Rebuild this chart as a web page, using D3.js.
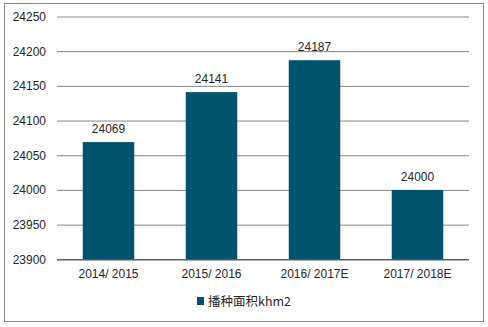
<!DOCTYPE html>
<html>
  <head>
    <meta charset="utf-8">
    <script src="https://d3js.org/d3.v7.min.js"></script>
    <style>
      body { margin: 0; background: #fff; }
      text { font-family: "Liberation Sans", Arial, sans-serif; fill: #262626; }
      .legend-label { font-family: "Noto Sans CJK SC", "Liberation Sans", sans-serif; }
    </style>
  </head>
  <body>
    <div id="chart"></div>
    <script>
      // data
      const seasons = ["2014/ 2015", "2015/ 2016", "2016/ 2017E", "2017/ 2018E"];
      const area = [24069, 24141, 24187, 24000];
      const yTicks = [23900, 23950, 24000, 24050, 24100, 24150, 24200, 24250];
      const seriesName = "播种面积khm2";

      const W = 488, H = 327;
      const plot = { left: 57, right: 469, top: 16.5, bottom: 259.3 };

      const svg = d3.select("#chart").append("svg")
        .attr("width", W)
        .attr("height", H);

      // outer frame
      svg.append("rect")
        .attr("x", 4.5).attr("y", 3.5)
        .attr("width", 479).attr("height", 318)
        .attr("fill", "#fff")
        .attr("stroke", "#8c8c8c");

      const x = d3.scaleBand()
        .domain(seasons)
        .range([plot.left, plot.right])
        .paddingInner(0.5)
        .paddingOuter(0.25);

      const y = d3.scaleLinear()
        .domain([23900, 24250])
        .range([plot.bottom, plot.top]);

      // gridlines + y labels
      const yAxis = svg.append("g")
        .attr("transform", `translate(${plot.left},0)`)
        .call(d3.axisLeft(y).tickValues(yTicks).tickFormat(d3.format("d"))
          .tickSize(-(plot.right - plot.left)).tickPadding(11));
      yAxis.select(".domain").remove();
      yAxis.selectAll(".tick line").attr("stroke", "#868686");
      yAxis.selectAll(".tick text")
        .attr("font-size", 12)
        .attr("font-family", "Liberation Sans, Arial, sans-serif")
        .attr("fill", "#262626");

      // bars
      svg.selectAll("rect.bar")
        .data(area)
        .enter()
        .append("rect")
        .attr("class", "bar")
        .attr("x", (d, i) => x(seasons[i]))
        .attr("y", d => y(d))
        .attr("width", x.bandwidth())
        .attr("height", d => y(23900) - y(d))
        .attr("fill", "#02536E");

      // value labels
      svg.selectAll("text.val")
        .data(area)
        .enter()
        .append("text")
        .attr("class", "val")
        .attr("x", (d, i) => x(seasons[i]) + x.bandwidth() / 2)
        .attr("y", d => y(d) - 9)
        .attr("text-anchor", "middle")
        .attr("font-size", 12)
        .text(d => d);

      // x axis baseline + labels
      const xAxis = svg.append("g")
        .attr("transform", `translate(0,${plot.bottom})`)
        .call(d3.axisBottom(x).tickSize(0).tickPadding(10));
      xAxis.select(".domain").attr("stroke", "#404040").attr("d", `M${plot.left},0.5H${plot.right}`);
      xAxis.selectAll(".tick text")
        .attr("font-size", 12)
        .attr("font-family", "Liberation Sans, Arial, sans-serif")
        .attr("fill", "#262626");

      // legend
      const legend = svg.append("g").attr("transform", "translate(197,297)");
      legend.append("rect")
        .attr("width", 7).attr("height", 8)
        .attr("fill", "#02536E");
      legend.append("text")
        .attr("class", "legend-label")
        .attr("x", 11).attr("y", 8.5)
        .attr("font-size", 12.5)
        .text(seriesName);
    </script>
  </body>
</html>
